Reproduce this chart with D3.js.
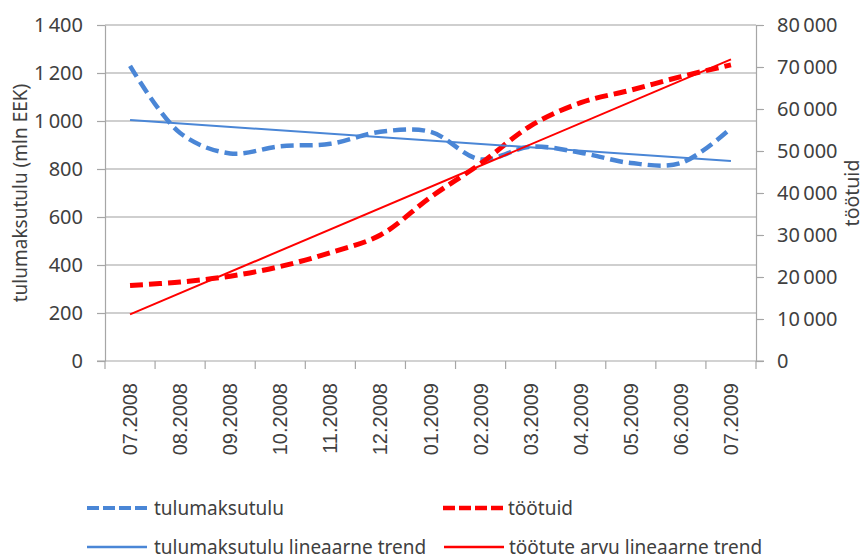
<!DOCTYPE html>
<html>
<head>
<meta charset="utf-8">
<script src="https://cdn.jsdelivr.net/npm/d3@7"></script>
<style>
  body { margin: 0; background: #fff; }
  svg { display: block; }
  text { fill: #404040; font-family: "Noto Sans", sans-serif; }
</style>
</head>
<body>
<svg id="chart" width="864" height="559"></svg>
<script>
// data
var months = ["07.2008", "08.2008", "09.2008", "10.2008", "11.2008", "12.2008",
              "01.2009", "02.2009", "03.2009", "04.2009", "05.2009", "06.2009", "07.2009"];
var tulumaksutulu = [1230, 950, 865, 895, 905, 955, 955, 840, 893, 868, 825, 825, 970];
var tootuid = [18000, 18800, 20200, 22500, 25800, 30000, 39000, 47000, 56000, 61500, 64500, 67700, 70500];
// trend lines: value at first and last month
var tulumaksTrend = [1004, 833];
var tootuteTrend = [11100, 71800];
var leftTicks = [0, 200, 400, 600, 800, 1000, 1200, 1400];
var rightTicks = [0, 10000, 20000, 30000, 40000, 50000, 60000, 70000, 80000];

var blue = "#4a86d6", red = "#ff0000", axisGrey = "#a6a6a6";
var plotL = 105, plotR = 756, plotT = 25, plotB = 361;

var svg = d3.select("#chart");
var fmt = d3.formatLocale({decimal: ",", thousands: "\u2009", grouping: [3], currency: ["", ""]}).format(",");

var x = d3.scaleBand().domain(months).range([plotL, plotR]);
var cx = function(m) { return x(m) + x.bandwidth() / 2; };
var yL = d3.scaleLinear().domain([0, 1400]).range([plotB, plotT]);
var yR = d3.scaleLinear().domain([0, 80000]).range([plotB, plotT]);

// gridlines from the left axis
svg.append("g").selectAll("line")
  .data(leftTicks.filter(function(d) { return d > 0; }))
  .enter().append("line")
  .attr("x1", plotL).attr("x2", plotR)
  .attr("y1", function(d) { return yL(d); }).attr("y2", function(d) { return yL(d); })
  .attr("stroke", "#a0a0a0").attr("stroke-width", 1.2);

// left axis
var gL = svg.append("g").attr("transform", "translate(" + plotL + ",0)")
  .call(d3.axisLeft(yL).tickValues(leftTicks).tickSizeInner(8).tickSizeOuter(0).tickPadding(14).tickFormat(fmt));
// right axis
var gR = svg.append("g").attr("transform", "translate(" + plotR + ",0)")
  .call(d3.axisRight(yR).tickValues(rightTicks).tickSizeInner(8).tickSizeOuter(0).tickPadding(13).tickFormat(fmt));
[gL, gR].forEach(function(g) {
  g.select(".domain").attr("stroke", axisGrey).attr("stroke-width", 1.2);
  g.selectAll(".tick line").attr("stroke", axisGrey).attr("stroke-width", 1.2);
  g.selectAll(".tick text").attr("fill", "#404040")
    .style("font-family", '"Noto Sans", sans-serif').style("font-size", "20px");
});

// category axis
svg.append("line").attr("x1", plotL - 8).attr("x2", plotR + 8)
  .attr("y1", plotB).attr("y2", plotB)
  .attr("stroke", axisGrey).attr("stroke-width", 1.2);
var bounds = months.map(function(m) { return x(m); }).concat([plotR]);
svg.append("g").selectAll("line").data(bounds).enter().append("line")
  .attr("x1", function(d) { return d; }).attr("x2", function(d) { return d; })
  .attr("y1", plotB).attr("y2", plotB + 8)
  .attr("stroke", axisGrey).attr("stroke-width", 1.2);
svg.append("g").selectAll("text").data(months).enter().append("text")
  .attr("transform", function(d) { return "translate(" + (cx(d) + 7) + ",383) rotate(-90)"; })
  .attr("text-anchor", "end")
  .style("font-family", '"Liberation Sans", Arial, sans-serif')
  .style("font-size", "20px")
  .text(function(d) { return d; });

// axis titles
svg.append("text").attr("transform", "translate(27,193) rotate(-90)")
  .attr("text-anchor", "middle").style("font-size", "19px")
  .text("tulumaksutulu (mln EEK)");
svg.append("text").attr("transform", "translate(859,193) rotate(-90)")
  .attr("text-anchor", "middle").style("font-size", "19.5px")
  .text("töötuid");

// series
var smooth = d3.line().curve(d3.curveCatmullRom.alpha(0.5));
var straight = d3.line();

svg.append("path")
  .attr("d", smooth(months.map(function(m, i) { return [cx(m), yL(tulumaksutulu[i])]; })))
  .attr("fill", "none").attr("stroke", blue).attr("stroke-width", 4.5)
  .attr("stroke-dasharray", "13,6");
svg.append("path")
  .attr("d", smooth(months.map(function(m, i) { return [cx(m), yR(tootuid[i])]; })))
  .attr("fill", "none").attr("stroke", red).attr("stroke-width", 5)
  .attr("stroke-dasharray", "13,6");

var first = months[0], last = months[months.length - 1];
svg.append("path")
  .attr("d", straight([[cx(first), yL(tulumaksTrend[0])], [cx(last), yL(tulumaksTrend[1])]]))
  .attr("fill", "none").attr("stroke", blue).attr("stroke-width", 2);
svg.append("path")
  .attr("d", straight([[cx(first), yR(tootuteTrend[0])], [cx(last), yR(tootuteTrend[1])]]))
  .attr("fill", "none").attr("stroke", red).attr("stroke-width", 2);

// legend
var legend = [
  {label: "tulumaksutulu", color: blue, dash: "12,4", w: 4, x: 87, y: 508},
  {label: "töötuid", color: red, dash: "12,4", w: 4.5, x: 443, y: 508},
  {label: "tulumaksutulu lineaarne trend", color: blue, dash: null, w: 2.5, x: 87, y: 547},
  {label: "töötute arvu lineaarne trend", color: red, dash: null, w: 2.5, x: 444, y: 547}
];
var lg = svg.append("g").selectAll("g").data(legend).enter().append("g");
lg.append("line")
  .attr("x1", function(d) { return d.x; }).attr("x2", function(d) { return d.x + 60; })
  .attr("y1", function(d) { return d.y; }).attr("y2", function(d) { return d.y; })
  .attr("stroke", function(d) { return d.color; })
  .attr("stroke-width", function(d) { return d.w; })
  .attr("stroke-dasharray", function(d) { return d.dash; });
lg.append("text")
  .attr("x", function(d) { return d.x + (d.x < 200 ? 67 : 65); })
  .attr("y", function(d) { return d.y + 7; })
  .style("font-size", "19px")
  .text(function(d) { return d.label; });
</script>
</body>
</html>
